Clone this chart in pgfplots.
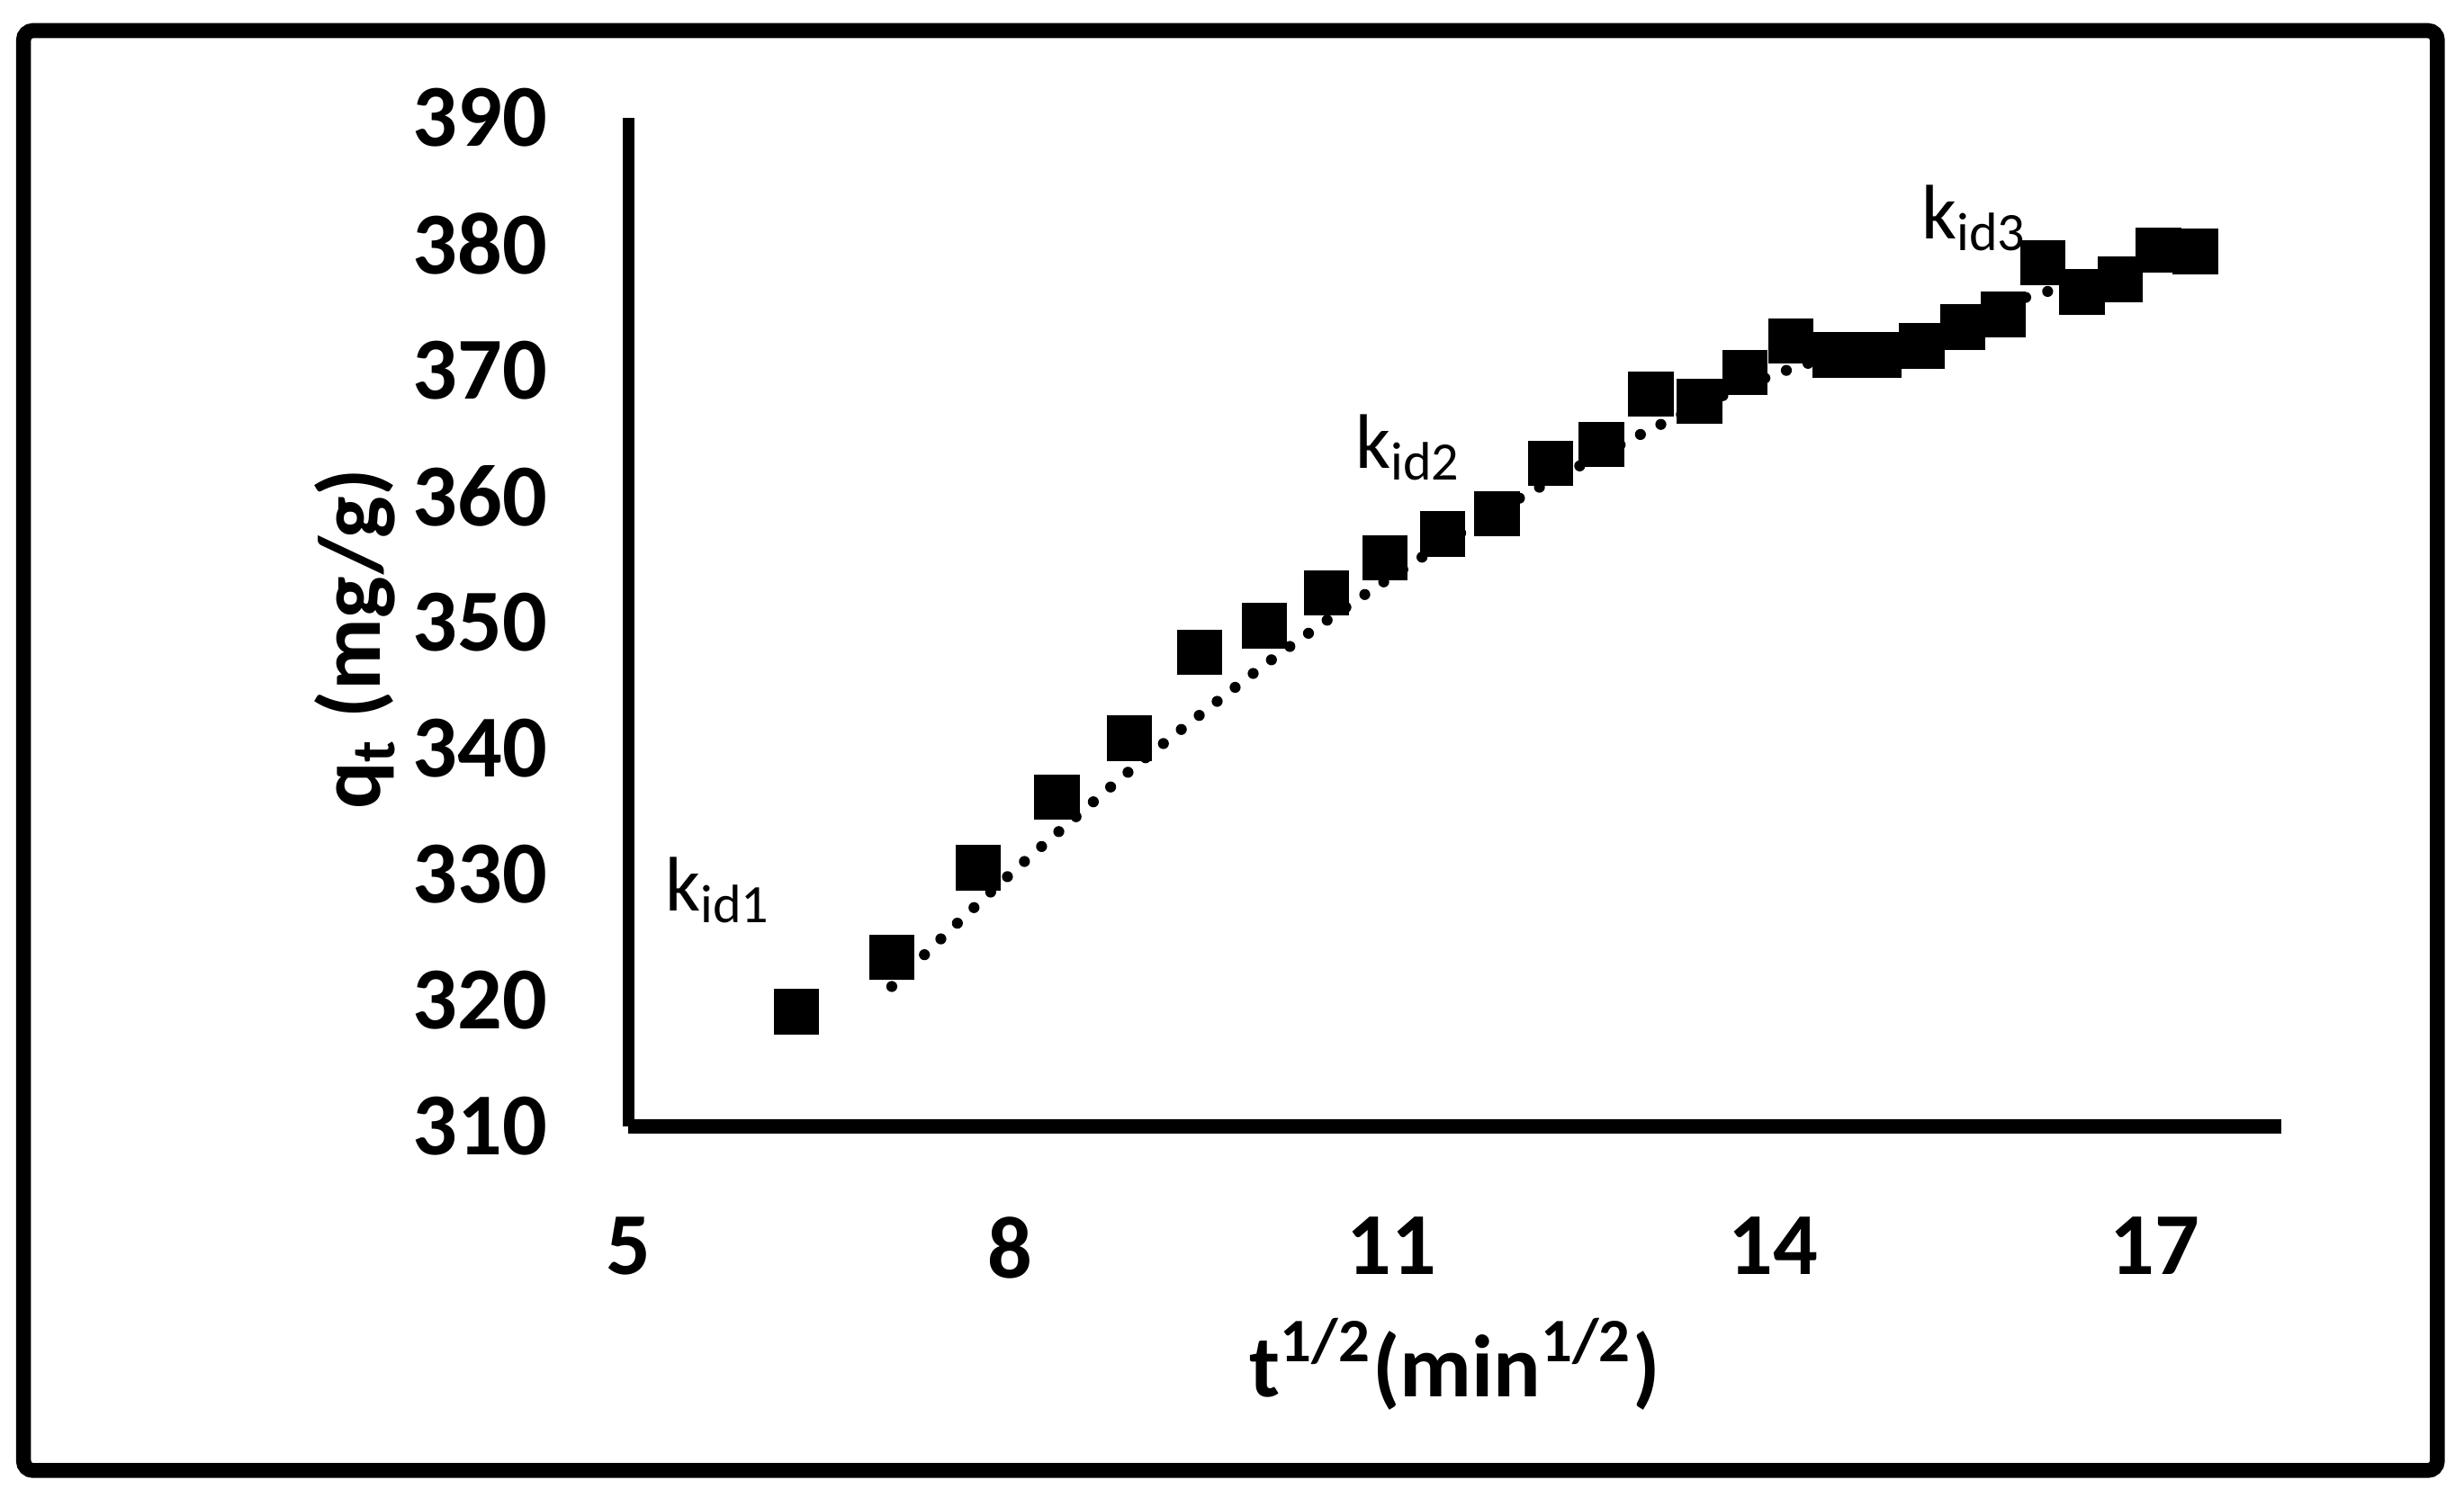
\documentclass[border=0pt]{standalone}
\usepackage{fontspec}
\setmainfont{Carlito}
\usepackage{pgfplots}
\pgfplotsset{compat=1.18}
\begin{document}
\begin{tikzpicture}
\path[use as bounding box] (-40mm,-23.65mm) rectangle (116.8mm,71.7mm);
\draw[line width=0.95mm, rounded corners=0.6mm] (-38.5mm,-21.9mm) rectangle (115.1mm,69.75mm);
\begin{axis}[
  at={(0,0)}, anchor=south west,
  width=105.2mm, height=64.2mm, scale only axis,
  xmin=5, xmax=18, ymin=310, ymax=390,
  axis x line=bottom, axis y line=left,
  x axis line style={-, line width=0.9mm},
  y axis line style={-, line width=0.7mm},
  xtick={5,8,11,14,17}, ytick={310,320,...,390},
  major tick length=0pt,
  tick style={draw=none},
  /pgf/number format/assume math mode=true,
  ticklabel style={font=\fontsize{16}{19}\selectfont\bfseries},
  xticklabel style={anchor=north, inner sep=0pt, yshift=-5.7mm},
  yticklabel style={anchor=east, inner sep=0pt, xshift=-5.1mm},
  xlabel={t\textsuperscript{1/2}(min\textsuperscript{1/2})},
  ylabel={q\textsubscript{t} (mg/g)},
  every axis x label/.style={at={(axis description cs:0.5,-0.268)}, anchor=base, inner sep=0pt, font=\fontsize{16}{19}\selectfont\bfseries},
  every axis y label/.style={at={(axis description cs:-0.1502,0.483)}, rotate=90, anchor=base, inner sep=0pt, font=\fontsize{16}{19}\selectfont\bfseries},
  clip=false,
]
\addplot[black, line width=0.7mm, line cap=round, dash pattern=on 0pt off 1.45mm, smooth] coordinates {
(7.07,321.1) (7.5,325.3) (8.0,330.0) (8.5,334.4) (9.0,338.7) (9.5,342.7)
(10.0,346.6) (10.5,350.2) (11.0,353.6) (11.5,356.8) (12.0,359.8) (12.5,362.5)
(13.0,365.1) (13.5,367.5) (14.0,369.6) (14.5,371.2) (15.0,372.4) (15.5,373.8)
(16.0,375.8) (16.5,377.0)
};
\addplot[only marks, mark=square*, mark size=1.375mm, mark options={fill=black, draw=black}] coordinates {
(6.32,319.1) (7.07,323.4) (7.75,330.5) (8.37,336.1) (8.94,340.8) (9.49,347.6)
(10.00,349.7) (10.49,352.3) (10.95,355.1) (11.40,357.0) (11.83,358.6) (12.25,362.6)
(12.65,364.1) (13.04,368.1) (13.42,367.5) (13.78,369.8) (14.14,372.3) (14.49,371.2)
(14.83,371.2) (15.17,371.9) (15.49,373.4) (15.81,374.4) (16.12,378.5) (16.43,376.2)
(16.73,377.2) (17.03,379.5) (17.32,379.4)
};
\node[anchor=base west, inner sep=0pt, font=\fontsize{14}{17}\selectfont] at (axis cs:5.28,327.1) {k\textsubscript{id1}};
\node[anchor=base west, inner sep=0pt, font=\fontsize{14}{17}\selectfont] at (axis cs:10.71,362.2) {k\textsubscript{id2}};
\node[anchor=base west, inner sep=0pt, font=\fontsize{14}{17}\selectfont] at (axis cs:15.16,380.4) {k\textsubscript{id3}};
\end{axis}
\end{tikzpicture}
\end{document}
